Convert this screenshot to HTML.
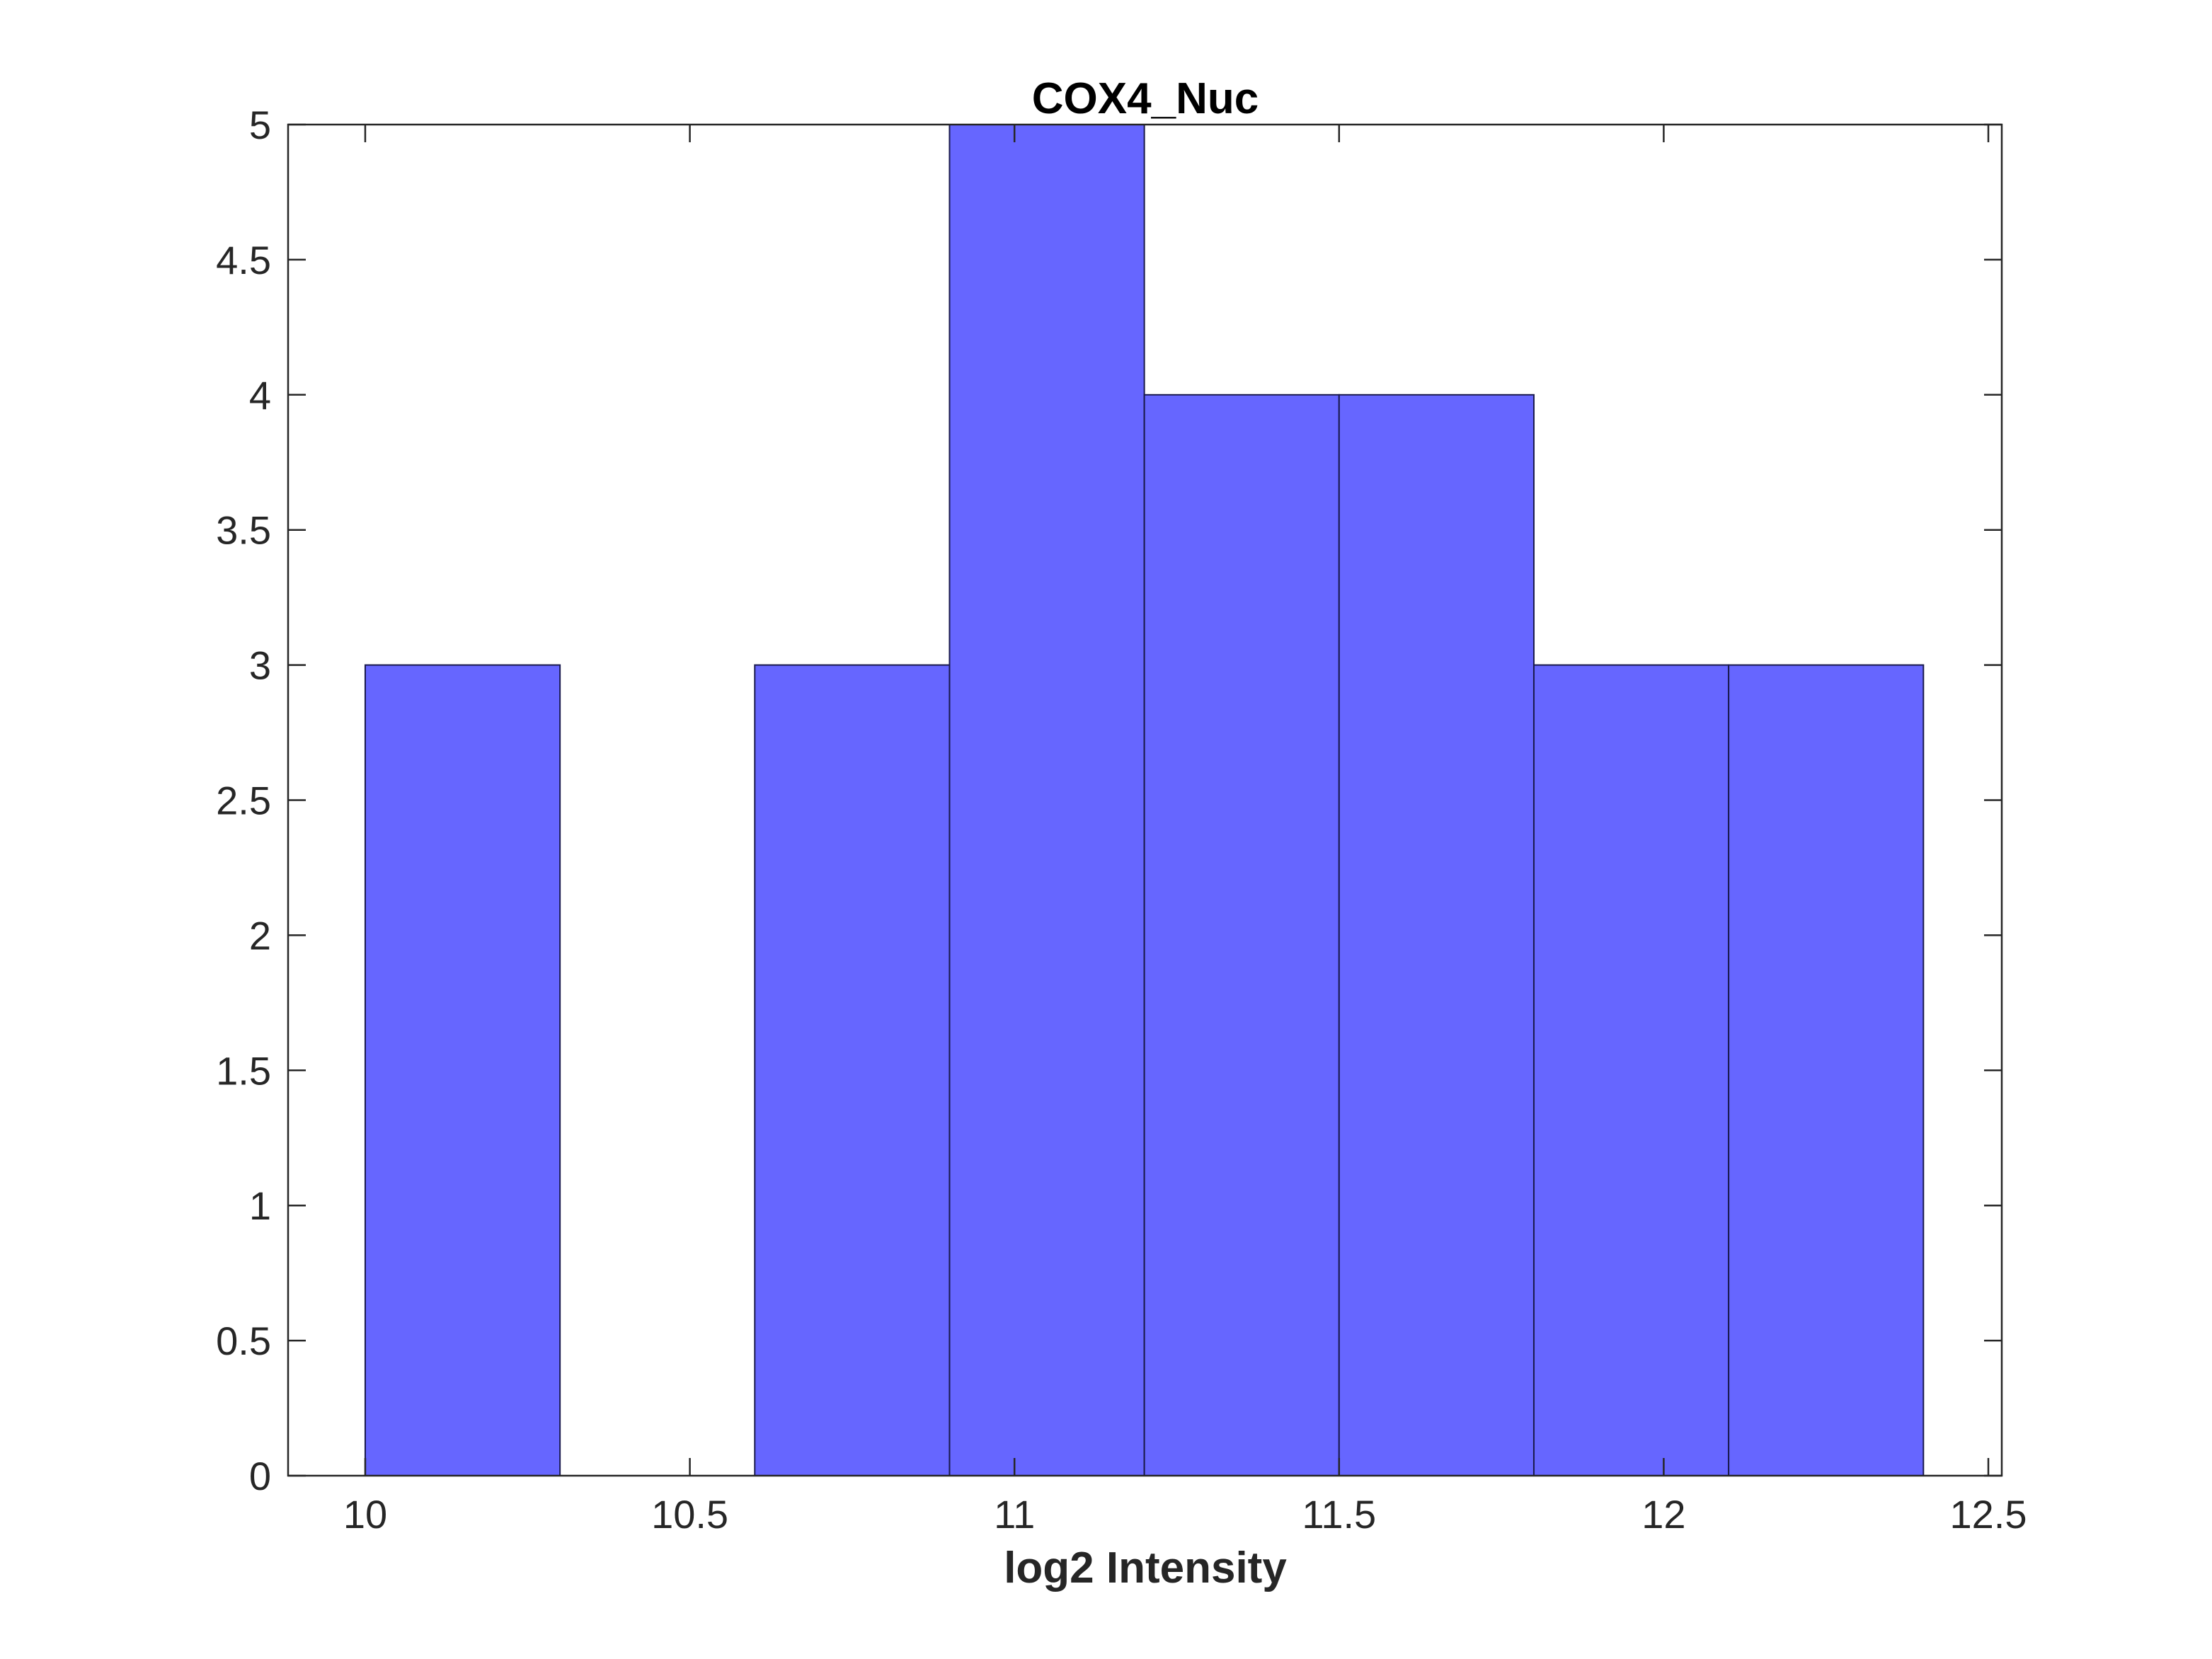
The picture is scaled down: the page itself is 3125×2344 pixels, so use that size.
<!DOCTYPE html>
<html><head><meta charset="utf-8"><style>
html,body{margin:0;padding:0;background:#fff;}
svg{display:block;font-family:"Liberation Sans",Arial,sans-serif;}
</style></head><body>
<svg id="chart" width="3125" height="2344" viewBox="0 0 3125 2344">
<rect x="0" y="0" width="3125" height="2344" fill="#fff"/>
<g id="bars"></g>
<g id="axes"></g>
<text x="1618" y="160" text-anchor="middle" font-size="62" font-weight="bold" fill="#000">COX4_Nuc</text>
<text x="1618" y="2236" text-anchor="middle" font-size="62" font-weight="bold" fill="#262626">log2 Intensity</text>
</svg>
<script>
const binEdges = [10.0, 10.3, 10.6, 10.9, 11.2, 11.5, 11.8, 12.1, 12.4];
const counts = [3, 0, 3, 5, 4, 4, 3, 3];
const xTicks = [10, 10.5, 11, 11.5, 12, 12.5];
const xTickLabels = ["10", "10.5", "11", "11.5", "12", "12.5"];
const yTicks = [0, 0.5, 1, 1.5, 2, 2.5, 3, 3.5, 4, 4.5, 5];
const yTickLabels = ["0", "0.5", "1", "1.5", "2", "2.5", "3", "3.5", "4", "4.5", "5"];

const L = 407, R = 2828, T = 176, B = 2085;
const xMin = 9.8812, xMax = 12.5207, yMin = 0, yMax = 5;
const xs = v => L + (v - xMin) / (xMax - xMin) * (R - L);
const ys = v => B - (v - yMin) / (yMax - yMin) * (B - T);
const NS = "http://www.w3.org/2000/svg";
const barsG = document.getElementById('bars');
const axesG = document.getElementById('axes');
function mk(tag, attrs, parent) {
  const e = document.createElementNS(NS, tag);
  for (const k in attrs) e.setAttribute(k, attrs[k]);
  parent.appendChild(e);
  return e;
}
counts.forEach((c, i) => {
  if (c <= 0) return;
  const x0 = xs(binEdges[i]), x1 = xs(binEdges[i + 1]);
  const r = mk('rect', {x: x0, y: ys(c), width: x1 - x0, height: ys(0) - ys(c), fill: '#6666ff', stroke: '#1a1a4d', 'stroke-width': 2}, barsG);
  
  
});
const box = mk('rect', {x: L, y: T, width: R - L, height: B - T, fill: 'none', stroke: '#262626', 'stroke-width': 2.5}, axesG);


xTicks.forEach((v, i) => {
  const x = xs(v);
  mk('line', {x1: x, y1: B, x2: x, y2: B - 25, stroke: '#262626', 'stroke-width': 2.5}, axesG);
  mk('line', {x1: x, y1: T, x2: x, y2: T + 25, stroke: '#262626', 'stroke-width': 2.5}, axesG);
  const t = mk('text', {x: x, y: 2159, 'text-anchor': 'middle', 'font-size': 56, fill: '#262626'}, axesG);
  t.textContent = xTickLabels[i];
  
  
});
yTicks.forEach((v, i) => {
  const y = ys(v);
  mk('line', {x1: L, y1: y, x2: L + 25, y2: y, stroke: '#262626', 'stroke-width': 2.5}, axesG);
  mk('line', {x1: R, y1: y, x2: R - 25, y2: y, stroke: '#262626', 'stroke-width': 2.5}, axesG);
  const t = mk('text', {x: 383, y: y + 20, 'text-anchor': 'end', 'font-size': 56, fill: '#262626'}, axesG);
  t.textContent = yTickLabels[i];
  
  
});
</script>
</body></html>
